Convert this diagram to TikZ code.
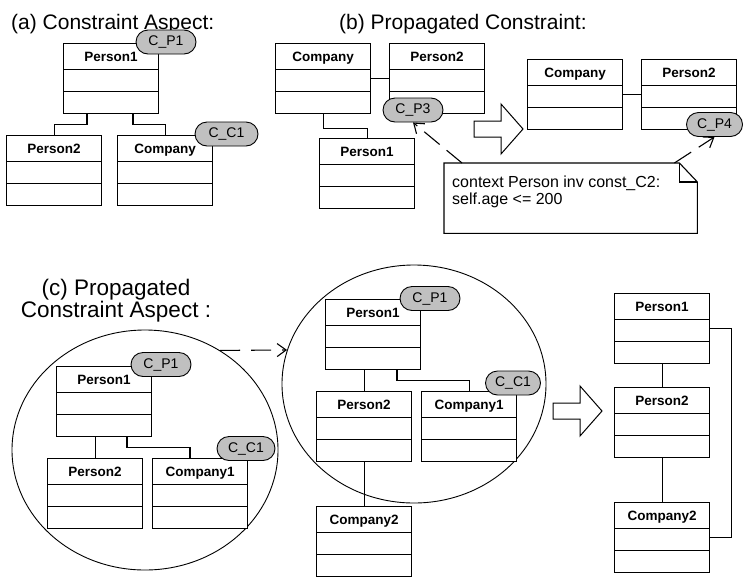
\documentclass[tikz,border=0pt]{standalone}
\usepackage{fontspec}
\setmainfont{Liberation Sans}
\usetikzlibrary{shapes.misc, shapes.geometric, arrows.meta, calc}

\definecolor{pillgray}{RGB}{192,192,192}

\tikzset{
  umlclass/.style={draw, line width=1.2pt, fill=white, anchor=north west,
    inner sep=0pt, minimum width=95pt, text height=17.5pt, text depth=52.5pt,
    font=\fontsize{13.5}{16}\selectfont\bfseries,
    path picture={
      \draw[line width=1.2pt]
        ([yshift=-26pt]path picture bounding box.north west) --
        ([yshift=-26pt]path picture bounding box.north east);
      \draw[line width=1.2pt]
        ([yshift=-48pt]path picture bounding box.north west) --
        ([yshift=-48pt]path picture bounding box.north east);
    }},
  pill/.style={draw, line width=0.9pt, fill=pillgray, rounded rectangle,
    minimum width=60pt, minimum height=24pt, inner sep=0pt,
    font=\fontsize{14}{16}\selectfont},
  link/.style={line width=1.2pt},
  dashlink/.style={line width=1.1pt, dash pattern=on 20pt off 9pt,
    -{Straight Barb[length=9pt,width=13pt]}},
  scopering/.style={draw, line width=0.9pt, ellipse, inner sep=0pt},
  title/.style={inner sep=0pt, font=\fontsize{21}{20}\selectfont},
  bigarrow/.style={draw, line width=1pt, fill=white},
}

\begin{document}
\begin{tikzpicture}[x=1pt, y=-1pt]
\useasboundingbox (0,0) rectangle (743,576);

% ---------- titles ----------
\node[title, anchor=base west] (ta) at (11,29) {(a) Constraint Aspect:};
\node[title, anchor=base west] (tb) at (339,29) {(b) Propagated Constraint:};
\node[title, anchor=north, align=center, font=\fontsize{22.5}{20.5}\selectfont]
  (tc) at (116,279) {(c) Propagated\\Constraint Aspect :};

% ---------- (a) constraint aspect ----------
\node[umlclass] (aP1) at (63,43)  {Person1};
\node[umlclass] (aP2) at (6,135)  {Person2};
\node[umlclass] (aCo) at (117,135) {Company};
\draw[link] ([xshift=24pt]aP1.south west) -- ++(0,10) -| (aP2.north);
\draw[link] ([xshift=70pt]aP1.south west) -- ++(0,10) -| (aCo.north);
\node[pill] (aCP1) at (166,42) {C\_P1};
\node[pill, minimum width=63pt] (aCC1) at (226.5,134) {C\_C1};

% ---------- (b) propagated constraint ----------
\node[umlclass] (bCo) at (275,43)  {Company};
\node[umlclass] (bP2) at (389,43)  {Person2};
\node[umlclass] (bP1) at (319,138) {Person1};
\draw[link] (bCo.east) -- (bP2.west);
\draw[link] (bCo.south) -- ++(0,14) -| (bP1.north);
\node[pill] (bCP3) at (413,110) {C\_P3};

\draw[bigarrow] (474,121) -- (501,121) -- (501,104) -- (523,129)
  -- (501,154) -- (501,137) -- (474,137) -- cycle;

\node[umlclass] (rCo) at (527,59) {Company};
\node[umlclass] (rP2) at (641,59) {Person2};
\draw[link] (rCo.east) -- (rP2.west);
\node[pill, minimum width=56pt] (bCP4) at (714.5,124.5) {C\_P4};

% OCL note with folded corner
\node[anchor=north west, minimum width=253pt, minimum height=70pt,
  inner sep=0pt] (note) at (444,163) {};
\draw[line width=1.1pt] (note.north west) -- ([xshift=-18pt]note.north east)
  -- ([yshift=-19pt]note.north east) -- (note.south east)
  -- (note.south west) -- cycle;
\draw[line width=1.1pt] ([xshift=-18pt]note.north east)
  -- ([xshift=-18pt,yshift=-19pt]note.north east)
  -- ([yshift=-19pt]note.north east);
\node[anchor=north west, inner sep=0pt, align=left,
  font=\fontsize{16}{17}\selectfont] (notetext) at (452,175.5)
  {context Person inv const\_C2:\\self.age <= 200};
\draw[dashlink] ([xshift=18pt]note.north west) -- (bCP3.south);
\draw[dashlink] ([xshift=-23pt]note.north east) -- (bCP4.south);

% ---------- (c) propagated constraint aspect ----------
\node[scopering, minimum width=266pt, minimum height=240pt] (e1) at (145,450) {};
\node[scopering, minimum width=264pt, minimum height=238pt] (e2) at (414,384) {};

% first aspect scope
\node[umlclass] (cP1) at (56,366)  {Person1};
\node[umlclass] (cP2) at (47,458)  {Person2};
\node[umlclass] (cC1) at (152,458) {Company1};
\draw[link] (cP2.north |- cP1.south) -- (cP2.north);
\draw[link] ([xshift=71pt]cP1.south west) -- ++(0,10)
  -| ([xshift=38pt]cC1.north west);
\node[pill] (cCP1) at (161,364.5) {C\_P1};
\node[pill, minimum width=58pt] (cCC1) at (246,448.5) {C\_C1};

\draw[dashlink, dash pattern=on 20pt off 11pt] (e1.53) -- (e2.165);

% second aspect scope
\node[umlclass] (dP1) at (325,299) {Person1};
\node[umlclass] (dP2) at (316,391) {Person2};
\node[umlclass] (dC1) at (421,391) {Company1};
\node[umlclass] (dC2) at (316,506) {Company2};
\draw[link] (dP2.north |- dP1.south) -- (dP2.north);
\draw[link] ([xshift=72pt]dP1.south west) -- ++(0,10) -| (dC1.north);
\draw[link] (dP2.south) -- (dC2.north);
\node[pill] (dCP1) at (430,298.5) {C\_P1};
\node[pill, minimum width=55pt] (dCC1) at (513,383) {C\_C1};

\draw[bigarrow] (553,403) -- (580,403) -- (580,386) -- (602,411)
  -- (580,436) -- (580,419) -- (553,419) -- cycle;

% woven result
\node[umlclass] (fP1) at (614,293) {Person1};
\node[umlclass] (fP2) at (614,387) {Person2};
\node[umlclass] (fC2) at (614,502) {Company2};
\draw[link] (fP1.south) -- (fP2.north);
\draw[link] (fP2.south) -- (fC2.north);
\draw[link] (fP1.east) -- ++(21,0) |- (fC2.east);

\end{tikzpicture}
\end{document}
